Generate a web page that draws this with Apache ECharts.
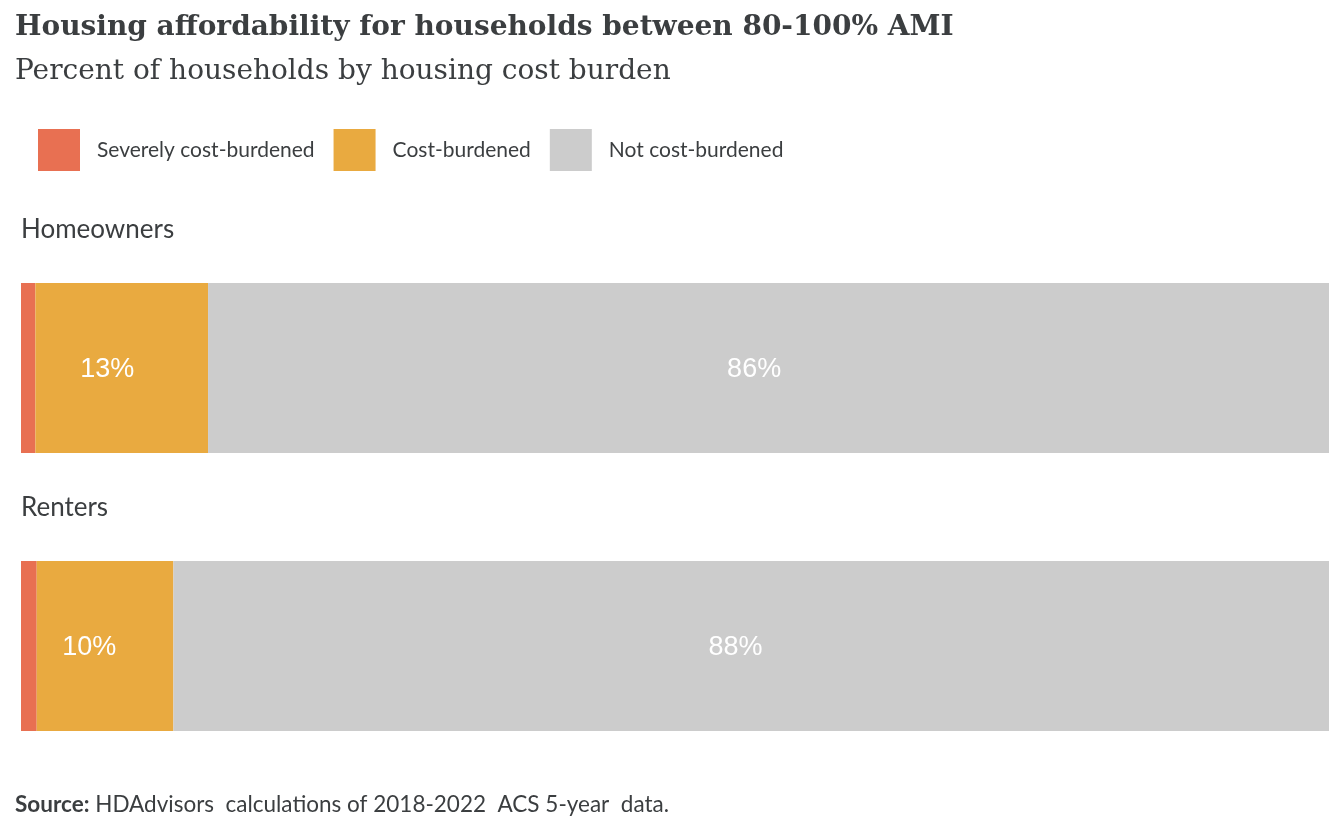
<!DOCTYPE html>
<html>
<head>
<meta charset="utf-8">
<script src="https://cdn.jsdelivr.net/npm/echarts@6/dist/echarts.min.js"></script>
<style>
html,body{margin:0;padding:0;background:#fff;}
#chart{width:1344px;height:830px;}
</style>
</head>
<body>
<div id="chart"></div>
<script>
const categories = ['Homeowners', 'Renters'];
const severelyBurdened = [1.1, 1.2];
const costBurdened = [13.2, 10.45];
const notBurdened = [85.7, 88.35];
const seriesNames = ['Severely cost-burdened', 'Cost-burdened', 'Not cost-burdened'];
const colors = ['#E87052', '#E9AA40', '#CCCCCC'];

const chart = echarts.init(document.getElementById('chart'));
const textColor = '#3b3e40';
const barW = 170;

function mainSeries(name, data, color, extra) {
  return Object.assign({
    name: name, type: 'bar', stack: 'main', data: data, barWidth: barW, barGap: '-100%',
    itemStyle: { color: color }, label: { show: false }, emphasis: { disabled: true }, silent: true
  }, extra || {});
}
function labelSeries(data) {
  return {
    type: 'bar', stack: 'labels', data: data, barWidth: barW, barGap: '-100%',
    itemStyle: { color: 'rgba(0,0,0,0)' }, silent: true, z: 5,
    label: {
      show: true, position: 'inside', color: '#ffffff', offset: [0, 2],
      fontFamily: 'Liberation Sans', fontSize: 27,
      formatter: p => Math.round(p.value) + '%'
    },
    emphasis: { disabled: true }
  };
}

chart.setOption({
  animation: false,
  color: colors,
  title: [
    { text: 'Housing affordability for households between 80-100% AMI', left: 15, top: 14, padding: 0,
      textStyle: { fontFamily: 'DejaVu Serif', fontWeight: 'bold', fontSize: 28, color: textColor } },
    { text: 'Percent of households by housing cost burden', left: 15, top: 58, padding: 0,
      textStyle: { fontFamily: 'DejaVu Serif', fontWeight: 'normal', fontSize: 28, color: textColor } },
    { text: '{b|Source:} HDAdvisors  calculations of 2018-2022  ACS 5-year  data.', left: 15, top: 793, padding: 0,
      textStyle: { fontFamily: 'Lato', fontWeight: 'normal', fontSize: 22.5, color: textColor,
        rich: { b: { fontFamily: 'Lato', fontWeight: 'bold', fontSize: 22.5, color: textColor } } } }
  ],
  legend: {
    data: seriesNames, left: 38, top: 129, padding: 0,
    itemWidth: 42, itemHeight: 42, itemGap: 19, icon: 'rect',
    textStyle: { fontFamily: 'Lato', fontSize: 21, color: textColor, padding: [0, 0, 0, 12] },
    selectedMode: false
  },
  grid: { left: 21, right: 15, top: 229, height: 556, containLabel: false },
  xAxis: { type: 'value', min: 0, max: 100, show: false },
  yAxis: {
    type: 'category', data: categories, inverse: true, show: false
  },
  series: [
    mainSeries(seriesNames[0], severelyBurdened, colors[0], {
      label: {
        show: true, position: [0, -53], align: 'left', verticalAlign: 'middle',
        fontFamily: 'Lato', fontSize: 26, color: textColor,
        formatter: p => p.name
      }
    }),
    mainSeries(seriesNames[1], costBurdened, colors[1]),
    mainSeries(seriesNames[2], notBurdened, colors[2]),
    labelSeries(costBurdened),
    labelSeries(notBurdened)
  ]
});
</script>
</body>
</html>
